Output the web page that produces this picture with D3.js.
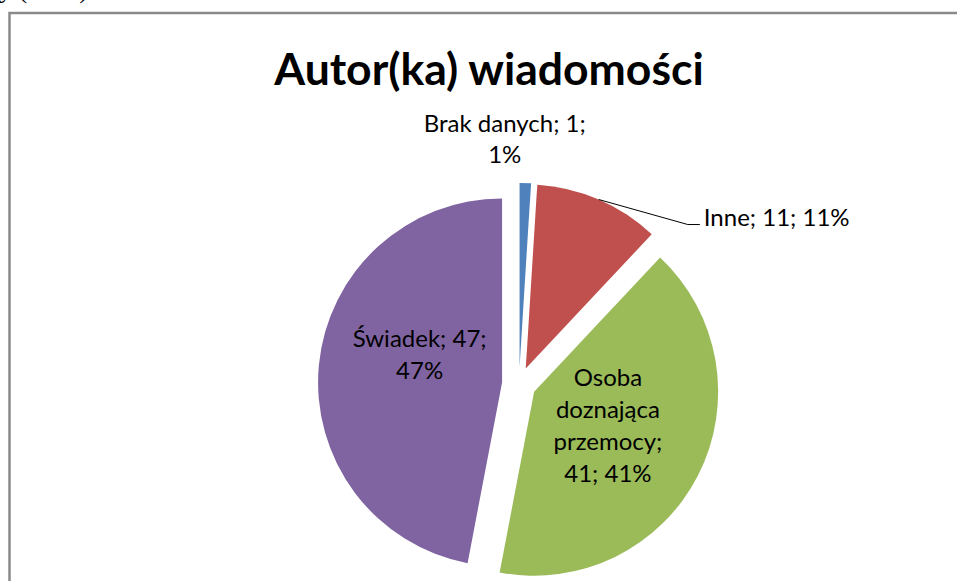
<!DOCTYPE html>
<html>
<head>
<meta charset="utf-8">
<script src="https://cdnjs.cloudflare.com/ajax/libs/d3/7.8.5/d3.min.js"></script>
<style>
  body { margin: 0; background: #fff; }
  svg { display: block; }
</style>
</head>
<body>
<div id="chart"></div>
<script>
// chart data
var categories = ["Brak danych", "Inne", "Osoba doznająca przemocy", "Świadek"];
var values = [1, 11, 41, 47];
var percents = ["1%", "11%", "41%", "47%"];
var sliceColors = ["#4F81BD", "#C0504D", "#9BBB59", "#8064A2"];
// how the data labels are wrapped (as in the original)
var labelLines = [
    ["Brak danych; 1;", "1%"],
    ["Inne; 11; 11%"],
    ["Osoba", "doznająca", "przemocy;", "41; 41%"],
    ["Świadek; 47;", "47%"]
];

var width = 957, height = 581;
var cx = 519, cy = 384, radius = 184, explode = 17;
var lineH = 32;
// vertical nudge of the inside labels (Excel best fit)
var labelShift = [0, 0, -3, -20];

var svg = d3.select("#chart").append("svg")
    .attr("width", width)
    .attr("height", height);

// bit of document text cut at the top
svg.append("text")
    .attr("x", -1)
    .attr("y", -2)
    .attr("font-family", "Liberation Serif")
    .attr("font-size", 26)
    .attr("fill", "#000")
    .text("y (2016)");

// chart frame
svg.append("rect")
    .attr("x", 9.5)
    .attr("y", 13)
    .attr("width", 1000)
    .attr("height", 700)
    .attr("fill", "#fff")
    .attr("stroke", "#8a8a8a")
    .attr("stroke-width", 2.5);

svg.append("text")
    .attr("x", 489)
    .attr("y", 85)
    .attr("text-anchor", "middle")
    .attr("font-family", "Lato")
    .attr("font-weight", "bold")
    .attr("font-size", 44.5)
    .attr("fill", "#000")
    .text("Autor(ka) wiadomości");

var pie = d3.pie().sort(null).value(function (d) { return d; });
var arcs = pie(values);

var arc = d3.arc().innerRadius(0).outerRadius(radius);
var labelArc = d3.arc().innerRadius(radius * 0.45).outerRadius(radius * 0.45);
var edgeArc = d3.arc().innerRadius(radius).outerRadius(radius);

function offset(d) {
    var a = (d.startAngle + d.endAngle) / 2;
    return [explode * Math.sin(a), -explode * Math.cos(a)];
}

var g = svg.append("g").attr("transform", "translate(" + cx + "," + cy + ")");

var slices = g.selectAll(".slice")
    .data(arcs)
    .enter().append("g")
    .attr("class", "slice")
    .attr("transform", function (d) {
        var o = offset(d);
        return "translate(" + o[0] + "," + o[1] + ")";
    });

slices.append("path")
    .attr("d", arc)
    .attr("fill", function (d, i) { return sliceColors[i]; });

// inside labels
[2, 3].forEach(function (i) {
    var c = labelArc.centroid(arcs[i]);
    var lines = labelLines[i];
    var t = slices.filter(function (d, k) { return k == i; })
        .append("text")
        .attr("text-anchor", "middle")
        .attr("font-family", "Lato")
        .attr("font-size", 24)
        .attr("fill", "#000");
    lines.forEach(function (l, j) {
        t.append("tspan")
            .attr("x", c[0])
            .attr("y", c[1] + (j - (lines.length - 1) / 2) * lineH + 8 + labelShift[i])
            .text(l);
    });
});

// Brak danych label, above the slice
var blue = edgeArc.centroid(arcs[0]);
var bt = svg.append("text")
    .attr("text-anchor", "middle")
    .attr("font-family", "Lato")
    .attr("font-size", 24)
    .attr("fill", "#000");
labelLines[0].forEach(function (l, j) {
    bt.append("tspan")
        .attr("x", cx + blue[0] - 20)
        .attr("y", cy + blue[1] - 68 + j * 31)
        .text(l);
});

// Inne label with leader line
var red = edgeArc.centroid(arcs[1]);
var ro = offset(arcs[1]);
var sx = cx + red[0] + ro[0], sy = cy + red[1] + ro[1];
var lx = sx + 89, ly = sy + 25;
svg.append("path")
    .attr("d", "M" + sx + "," + sy + "L" + lx + "," + ly + "L" + (lx + 12) + "," + ly)
    .attr("fill", "none")
    .attr("stroke", "#000")
    .attr("stroke-width", 1);
svg.append("text")
    .attr("x", lx + 16)
    .attr("y", ly + 1)
    .attr("font-family", "Lato")
    .attr("font-size", 24)
    .attr("fill", "#000")
    .text(labelLines[1][0]);
</script>
</body>
</html>
